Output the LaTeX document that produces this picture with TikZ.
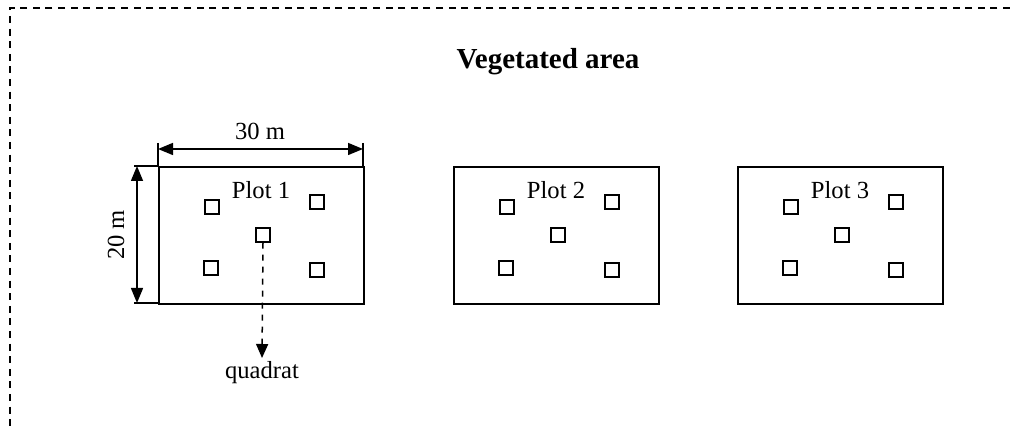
\documentclass[tikz,border=0pt]{standalone}
\usepackage{fontspec}
\setmainfont{Liberation Serif}
\usetikzlibrary{arrows.meta}
\tikzset{
  plotbox/.style={draw,line width=1pt,minimum width=102.5pt,minimum height=68.5pt,inner sep=0pt},
  quadrat/.style={draw,line width=0.9pt,minimum size=6.8pt,inner sep=0pt},
  lbl/.style={font=\fontsize{12.3}{14}\selectfont,inner sep=0pt},
  dimline/.style={line width=0.75pt,{Triangle[length=7.5pt,width=6pt]}-{Triangle[length=7.5pt,width=6pt]}},
}
\begin{document}
\begin{tikzpicture}[x=0.5pt,y=-0.5pt]
  \useasboundingbox (0,0) rectangle (1010,431);
  % dashed boundary of the area
  \draw[line width=0.75pt,dash pattern=on 3.5pt off 2.8pt] (1010,8) -- (10,8) -- (10,431);
  \node[font=\fontsize{14.5}{17}\selectfont\bfseries,inner sep=0pt] (title) at (548,62) {Vegetated area};
  % plots and their quadrats
  \foreach \n/\x in {1/158,2/453,3/737}{
    \node[plotbox,anchor=north west] (plot\n) at (\x,166) {};
    \node[lbl] (lab\n) at (\x+103,190) {Plot \n};
    \node[quadrat] (q\n tl) at (\x+54,207) {};
    \node[quadrat] (q\n tr) at (\x+159,202) {};
    \node[quadrat] (q\n c) at (\x+105,235) {};
    \node[quadrat] (q\n bl) at (\x+53,268) {};
    \node[quadrat] (q\n br) at (\x+159,270) {};
  }
  % width of plot 1
  \coordinate (wl) at (158,143);
  \coordinate (wr) at (363,143);
  \draw[line width=0.75pt] (wl) -- (wl |- plot1.north);
  \draw[line width=0.75pt] (wr) -- (wr |- plot1.north);
  \draw[dimline] ([yshift=-3pt]wl) -- ([yshift=-3pt]wr);
  \node[lbl,anchor=base] (wlab) at (260,140) {30 m};
  % height of plot 1
  \coordinate (ht) at (134,166);
  \coordinate (hb) at (134,303);
  \draw[line width=0.75pt] (ht) -- (ht -| plot1.west);
  \draw[line width=0.75pt] (hb) -- (hb -| plot1.west);
  \draw[dimline] ([xshift=1.5pt]ht) -- ([xshift=1.5pt]hb);
  \node[lbl,rotate=90] (hlab) at (116,235) {20 m};
  % quadrat pointer
  \coordinate (qend) at (262,358);
  \draw[line width=0.75pt,dashed,-{Triangle[length=7pt,width=6pt]}] (q1c.south) -- (qend);
  \node[lbl] (qlab) at (262,373) {quadrat};
\end{tikzpicture}
\end{document}
